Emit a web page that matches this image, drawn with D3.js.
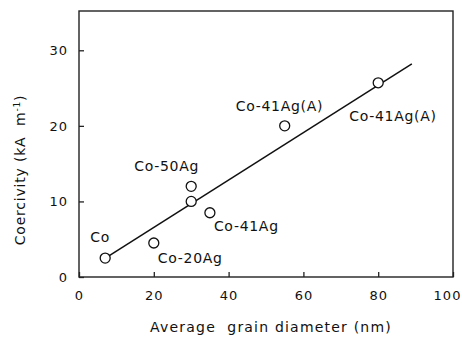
<!DOCTYPE html>
<html>
<head>
<meta charset="utf-8">
<script src="https://cdn.jsdelivr.net/npm/d3@7"></script>
<style>
  body { margin: 0; background: white; }
  text { font-family: "DejaVu Sans", sans-serif; fill: #111; white-space: pre; }
</style>
</head>
<body>
<div id="chart"></div>
<script>
/* CONSTANTS AND GLOBALS */
const width = 462;
const height = 338;
const margin = { top: 11, right: 9, bottom: 61, left: 79 };

/* DATA */
const samples = ["Co", "Co-20Ag", "Co-50Ag", "Co-50Ag", "Co-41Ag", "Co-41Ag(A)", "Co-41Ag(A)"];
const grainSize = [7, 20, 30, 30, 35, 55, 80];
const coercivity = [2.5, 4.5, 12, 10, 8.5, 20, 25.7];
const fitX = [8, 89];
const fitY = [2.8, 28.2];
const xTicks = [0, 20, 40, 60, 80, 100];
const yTicks = [0, 10, 20, 30];

// label offsets per point (only one label for the pair of Co-50Ag)
const labelText = ["Co", "Co-20Ag", "Co-50Ag", "", "Co-41Ag", "Co-41Ag(A)", "Co-41Ag(A)"];
const labelDx = [-15, 4, -57, 0, 4, -49, -29];
const labelDy = [-16, 20, -15, 0, 18, -15, 38];

const data = samples.map((s, i) => ({ sample: s, x: grainSize[i], y: coercivity[i], label: labelText[i], dx: labelDx[i], dy: labelDy[i] }));

/* SCALES */
const xScale = d3.scaleLinear()
  .domain([0, 100])
  .range([margin.left, width - margin.right]);

const yScale = d3.scaleLinear()
  .domain([0, 35.2])
  .range([height - margin.bottom, margin.top]);

/* HTML ELEMENTS */
const svg = d3.select("#chart")
  .append("svg")
  .attr("width", width)
  .attr("height", height)
  .style("background-color", "white");

// frame
svg.append("rect")
  .attr("x", xScale(0))
  .attr("y", yScale(35.2))
  .attr("width", xScale(100) - xScale(0))
  .attr("height", yScale(0) - yScale(35.2))
  .attr("fill", "none")
  .attr("stroke", "#222")
  .attr("stroke-width", 1.4);

// axes with inward ticks
const xAxis = svg.append("g")
  .attr("transform", `translate(0,${yScale(0)})`)
  .call(d3.axisBottom(xScale).tickValues(xTicks).tickSizeInner(-5).tickSizeOuter(0).tickPadding(12));

const yAxis = svg.append("g")
  .attr("transform", `translate(${xScale(0)},0)`)
  .call(d3.axisLeft(yScale).tickValues(yTicks).tickSizeInner(-5).tickSizeOuter(0).tickPadding(11));

[xAxis, yAxis].forEach(g => {
  g.select(".domain").remove();
  g.selectAll(".tick line").attr("stroke", "#222").attr("stroke-width", 1.3);
  g.selectAll(".tick text")
    .style("font-family", "DejaVu Sans, sans-serif")
    .style("font-size", "13px")
    .style("letter-spacing", "1px")
    .attr("fill", "#111");
});
xAxis.selectAll(".tick text").attr("dy", "0.85em");
xAxis.selectAll(".tick text").filter(d => d === 100).attr("dx", -6);

// fit line
svg.append("line")
  .attr("x1", xScale(fitX[0]))
  .attr("y1", yScale(fitY[0]))
  .attr("x2", xScale(fitX[1]))
  .attr("y2", yScale(fitY[1]))
  .attr("stroke", "#111")
  .attr("stroke-width", 1.5);

// points
svg.selectAll(".pt")
  .data(data)
  .join("circle")
  .attr("class", "pt")
  .attr("cx", d => xScale(d.x))
  .attr("cy", d => yScale(d.y))
  .attr("r", 5)
  .attr("fill", "white")
  .attr("stroke", "#111")
  .attr("stroke-width", 1.3);

// labels
svg.selectAll(".lbl")
  .data(data.filter(d => d.label))
  .join("text")
  .attr("class", "lbl")
  .attr("x", d => xScale(d.x) + d.dx)
  .attr("y", d => yScale(d.y) + d.dy)
  .style("font-size", "14px")
  .style("letter-spacing", "0.7px")
  .text(d => d.label);

// axis titles
svg.append("text")
  .attr("x", 271)
  .attr("y", 332)
  .attr("text-anchor", "middle")
  .style("font-size", "14px")
  .style("letter-spacing", "1.2px")
  .text("Average  grain diameter (nm)");

const yt = svg.append("text")
  .attr("transform", `translate(25,170) rotate(-90)`)
  .attr("text-anchor", "middle")
  .style("font-size", "14px")
  .style("letter-spacing", "0.8px");
yt.append("tspan").text("Coercivity (kA  m");
yt.append("tspan").attr("dy", -5).style("font-size", "9px").text("-1");
yt.append("tspan").attr("dy", 5).text(")");
</script>
</body>
</html>
